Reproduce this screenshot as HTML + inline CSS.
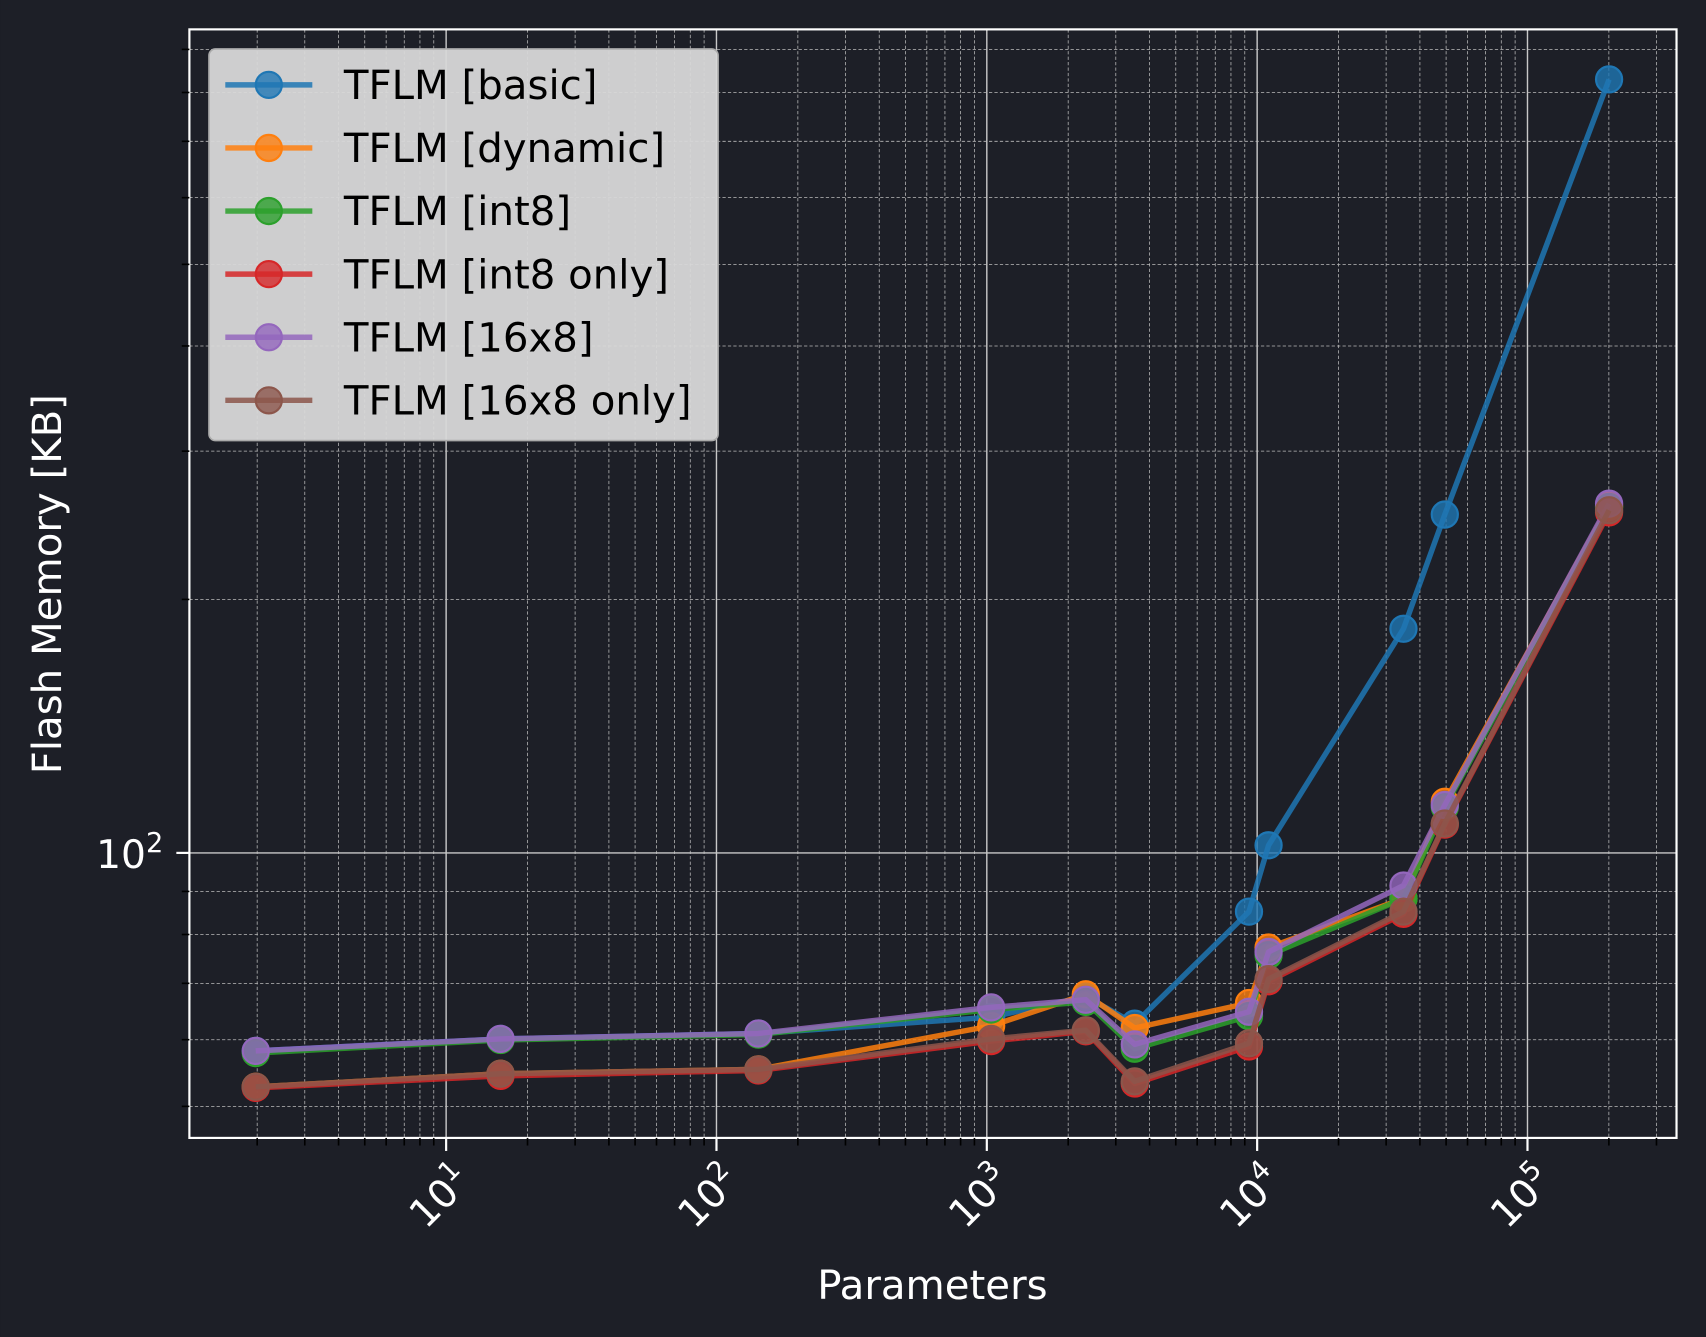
<!DOCTYPE html>
<html><head><meta charset="utf-8"><style>
html,body{margin:0;padding:0;background:#1d1f27;}
svg{display:block;}
text{font-family:"DejaVu Sans","Liberation Sans",sans-serif;}
</style></head><body>
<svg width="1706" height="1337" viewBox="0 0 1568 1229" xmlns="http://www.w3.org/2000/svg">
<rect width="1568" height="1229" fill="#1d1f27"/>
<defs><clipPath id="c"><rect x="174" y="27" width="1367" height="1019"/></clipPath></defs>
<g id="grid" clip-path="url(#c)"></g>
<g id="series" clip-path="url(#c)"></g>
<rect x="174" y="27" width="1367" height="1019" fill="none" stroke="#ffffff" stroke-width="2"/>
<g id="ticks"></g>
<g fill="#ffffff" font-size="36">
<text transform="translate(418,1070) rotate(-45)" text-anchor="end" dy="24">10<tspan dy="-15" font-size="25">1</tspan></text>
<text transform="translate(665,1070) rotate(-45)" text-anchor="end" dy="24">10<tspan dy="-15" font-size="25">2</tspan></text>
<text transform="translate(914,1070) rotate(-45)" text-anchor="end" dy="24">10<tspan dy="-15" font-size="25">3</tspan></text>
<text transform="translate(1163,1070) rotate(-45)" text-anchor="end" dy="24">10<tspan dy="-15" font-size="25">4</tspan></text>
<text transform="translate(1412,1070) rotate(-45)" text-anchor="end" dy="24">10<tspan dy="-15" font-size="25">5</tspan></text>
<text x="150" y="798" text-anchor="end" font-size="36">10<tspan dy="-15" font-size="25">2</tspan></text>
<text x="857" y="1194" text-anchor="middle" font-size="37">Parameters</text>
<text transform="translate(56,537) rotate(-90)" text-anchor="middle" font-size="37">Flash Memory [KB]</text>
</g>
<rect x="192" y="45" width="468" height="360" rx="6" fill="#d8d8d8" fill-opacity="0.95" stroke="#aaaaaa" stroke-width="1.5"/>
<g id="legend"></g>
</svg>
<script>
const NS="http://www.w3.org/2000/svg";
function el(p,t,a){const e=document.createElementNS(NS,t);for(const k in a)e.setAttribute(k,a[k]);p.appendChild(e);return e;}
const X=l=>410+(l-1)*248.5, Y=v=>784-(Math.log10(v)-2)*774;
const g=document.getElementById('grid'), tk=document.getElementById('ticks');
for(let d=0;d<=5;d++)for(let k=1;k<=9;k++){const x=X(d+Math.log10(k));if(x<174||x>1541)continue;
 if(k==1){el(g,'line',{x1:x,y1:27,x2:x,y2:1046,stroke:'#c8c8c8','stroke-width':1.3});el(tk,'line',{x1:x,y1:1046,x2:x,y2:1058,stroke:'#fff','stroke-width':2});}
 else{el(g,'line',{x1:x,y1:27,x2:x,y2:1046,stroke:'#bbbbbb','stroke-width':0.7,'stroke-dasharray':'3,2'});el(tk,'line',{x1:x,y1:1046,x2:x,y2:1053,stroke:'#000','stroke-width':1.5});}}
[50,60,70,80,90,200,300,400,500,600,700,800,900].forEach(v=>{const y=Y(v);el(g,'line',{x1:174,y1:y,x2:1541,y2:y,stroke:'#bbbbbb','stroke-width':0.7,'stroke-dasharray':'3,2'});el(tk,'line',{x1:167,y1:y,x2:174,y2:y,stroke:'#000','stroke-width':1.5});});
el(g,'line',{x1:174,y1:784,x2:1541,y2:784,stroke:'#c8c8c8','stroke-width':1.3});
el(tk,'line',{x1:162,y1:784,x2:174,y2:784,stroke:'#fff','stroke-width':2});
const xs=[235,460,697,911,998,1043,1148,1166,1290,1328,1479];
const S=[
 ['#1f77b4','TFLM [basic]',[966,955,950,935,916,941,838,777,578,473,73]],
 ['#ff7f0e','TFLM [dynamic]',[999,987,983,943,914,945,922,871,826,737,465]],
 ['#2ca02c','TFLM [int8]',[968,956,951,928,921,964,934,878,826,742,466]],
 ['#d62728','TFLM [int8 only]',[1000,989,984,957,948,996,962,902,840,758,471]],
 ['#9467bd','TFLM [16x8]',[966,955,950,926,919,960,930,875,814,740,463]],
 ['#8c564b','TFLM [16x8 only]',[999,987,983,955,947,994,959,900,838,757,469]]];
const sg=document.getElementById('series'), lg=document.getElementById('legend');
S.forEach((s,i)=>{
 el(sg,'polyline',{points:xs.map((x,j)=>x+','+s[2][j]).join(' '),fill:'none',stroke:s[0],'stroke-width':5,'stroke-opacity':0.85,'stroke-linejoin':'round'});
 xs.forEach((x,j)=>el(sg,'circle',{cx:x,cy:s[2][j],r:12,fill:s[0],'fill-opacity':0.8,stroke:s[0],'stroke-width':2}));
 const y=78+i*58;
 el(lg,'line',{x1:207,y1:y,x2:287,y2:y,stroke:s[0],'stroke-width':5,'stroke-opacity':0.85});
 el(lg,'circle',{cx:247,cy:y,r:12,fill:s[0],'fill-opacity':0.8,stroke:s[0],'stroke-width':2});
 const t=el(lg,'text',{x:316,y:y+13,'font-size':37,fill:'#000'});t.textContent=s[1];
});
</script>
</body></html>
